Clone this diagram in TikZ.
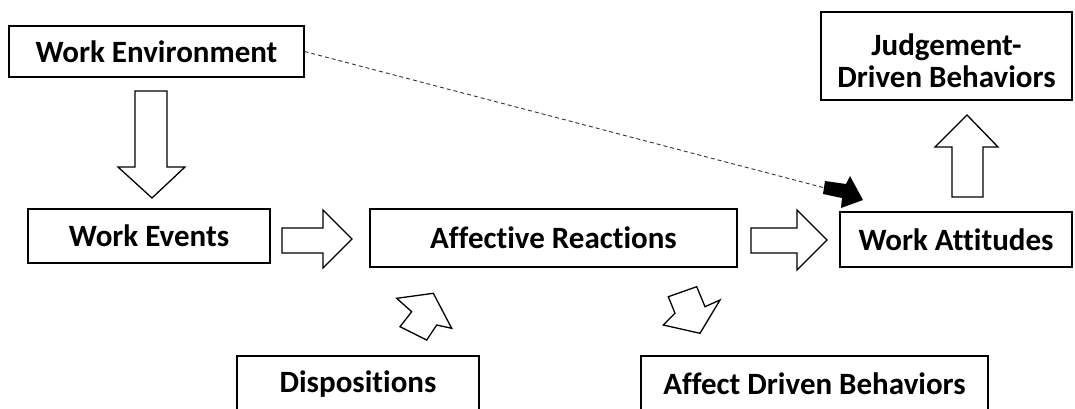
\documentclass[tikz,border=0pt]{standalone}
\usepackage{fontspec}
\setmainfont{Carlito}[Ligatures={NoCommon}]
\begin{document}
\begin{tikzpicture}[x=1pt,y=-1pt,
  box/.style={draw=black,line width=1.1pt,inner sep=0pt,align=center,
    font=\fontsize{31}{32}\selectfont\bfseries},
  lbl/.style={inner sep=0pt,align=center,font=\fontsize{31}{32}\selectfont\bfseries},
  blk/.style={draw=black,line width=1.3pt,fill=white,line join=miter},
  dsh/.style={draw=black!80,line width=0.9pt,dash pattern=on 4pt off 3pt}]
\useasboundingbox (0,0) rectangle (1075,408);
\node[box,minimum width=295pt,minimum height=51pt] (we) at (156.5,51.5) {Work Environment};
\node[box,minimum width=242pt,minimum height=54pt] (ev) at (149,236) {Work Events};
\node[box,minimum width=367pt,minimum height=58pt] (ar) at (553.5,238) {Affective Reactions};
\node[box,minimum width=232pt,minimum height=55pt] (wa) at (956,239.5) {Work Attitudes};
\node[box,minimum width=251pt,minimum height=88pt] (jd) at (946.5,56) {};
\node[lbl] (jdt) at (946.5,61) {Judgement-\\Driven Behaviors};
\node[box,minimum width=242pt,minimum height=56pt] (di) at (358,384) {Dispositions};
\node[box,minimum width=347pt,minimum height=56pt] (ad) at (814.5,384) {Affect Driven Behaviors};
% block arrows
\draw[blk] (135,91) -- (167,91) -- (167,167) -- (185,167) -- (152,198) -- (118,167) -- (135,167) -- cycle;
\draw[blk] (282,228) -- (323,228) -- (323,210) -- (352,239) -- (323,268) -- (323,253) -- (282,253) -- cycle;
\draw[blk] (751,228) -- (797,228) -- (797,210) -- (827,240) -- (797,270) -- (797,253) -- (751,253) -- cycle;
\draw[blk] (952,197) -- (952,147) -- (935,147) -- (967,115) -- (998,147) -- (983,147) -- (983,197) -- cycle;
\draw[blk] (400,326.7) -- (411.7,311.7) -- (396.7,298.3) -- (433.3,293.3) -- (451.7,328.3) -- (436.7,325) -- (426.7,340) -- cycle;
\draw[blk] (668.3,296.7) -- (696.7,286.7) -- (705,306.7) -- (720,300) -- (700,333.3) -- (663.3,325) -- (675,313.3) -- cycle;
% dashed connector
\coordinate (tip) at (825,188);
\draw[dsh] (we.east) -- (tip);
\fill[black] (825,181) -- (846,184) -- (850,176) -- (863,200) -- (841,208) -- (842,198) -- (823,194) -- cycle;
\end{tikzpicture}
\end{document}
